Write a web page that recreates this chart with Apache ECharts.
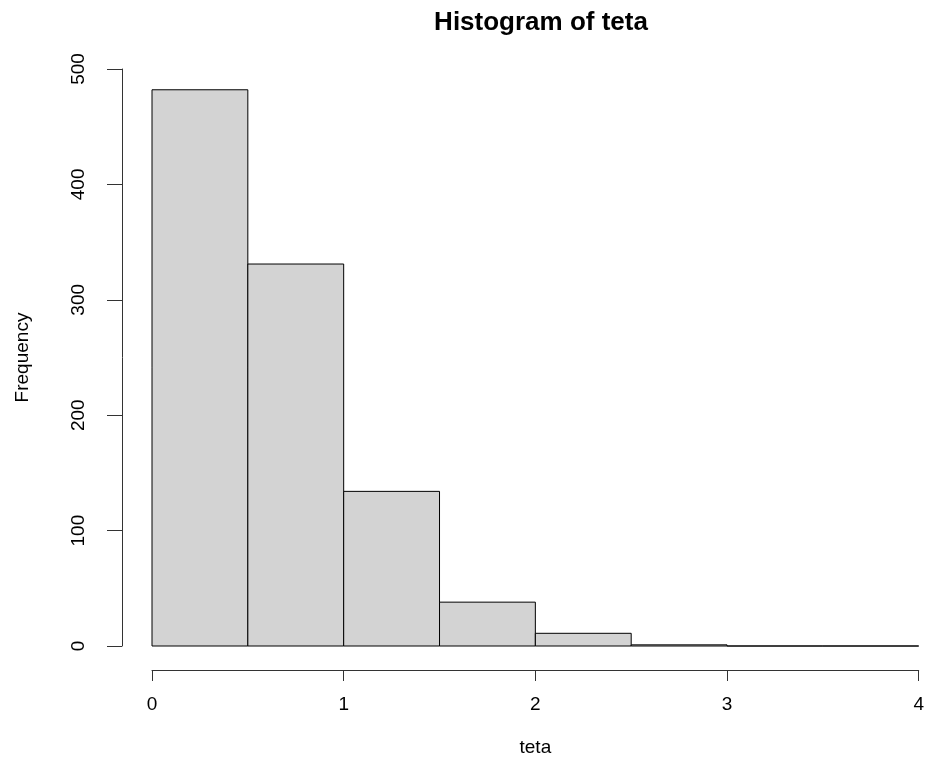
<!DOCTYPE html>
<html>
<head>
<meta charset="utf-8">
<title>Histogram of teta</title>
<style>
  html, body { margin: 0; padding: 0; background: #fff; }
  #chart { width: 927px; height: 769px; }
</style>
<script src="https://cdn.jsdelivr.net/npm/echarts@6/dist/echarts.min.js"></script>
</head>
<body>
<div id="chart"></div>
<script>
// histogram bins (left edge, right edge) and counts
const binStarts = [0, 0.5, 1, 1.5, 2, 2.5, 3, 3.5];
const binEnds = [0.5, 1, 1.5, 2, 2.5, 3, 3.5, 4];
const counts = [482, 331, 134, 38, 11, 1, 0, 0];
// axis ranges / ticks
const xMin = 0, xMax = 4, xStep = 1;
const yMin = 0, yMax = 500, yStep = 100;

const fontFamily = '"Liberation Sans", Arial, sans-serif';
const chart = echarts.init(document.getElementById('chart'));

const bins = binStarts.map((s, i) => [s, binEnds[i], counts[i]]);

const option = {
  animation: false,
  backgroundColor: '#fff',
  title: {
    text: 'Histogram of teta',
    left: 536,
    top: 5,
    textAlign: 'center',
    textStyle: {
      fontFamily,
      fontSize: 26,
      fontWeight: 'bold',
      color: '#000',
    },
  },
  grid: {
    left: 152,
    right: 6,
    top: 69,
    bottom: 123,
  },
  xAxis: {
    type: 'value',
    min: xMin,
    max: xMax,
    interval: xStep,
    offset: 24, // R draws the axis away from the bars
    name: 'teta',
    nameLocation: 'middle',
    nameGap: 68,
    nameTextStyle: { fontFamily, fontSize: 19, color: '#000' },
    axisLine: { show: true, onZero: false, lineStyle: { color: '#333', width: 1 } },
    axisTick: { show: true, length: 11, lineStyle: { color: '#333' } },
    axisLabel: { margin: 25, fontFamily, fontSize: 19, color: '#000' },
    splitLine: { show: false },
  },
  yAxis: {
    type: 'value',
    min: yMin,
    max: yMax,
    interval: yStep,
    offset: 30,
    name: 'Frequency',
    nameLocation: 'middle',
    nameGap: 90,
    nameTextStyle: { fontFamily, fontSize: 19, color: '#000' },
    axisLine: { show: true, onZero: false, lineStyle: { color: '#333', width: 1 } },
    axisTick: { show: true, length: 15, lineStyle: { color: '#333' } },
    axisLabel: { margin: 34, rotate: 90, fontFamily, fontSize: 19, color: '#000' },
    splitLine: { show: false },
  },
  series: [
    {
      type: 'custom',
      data: bins,
      encode: { x: [0, 1], y: 2 },
      renderItem(params, api) {
        const topLeft = api.coord([api.value(0), api.value(2)]);
        const bottomRight = api.coord([api.value(1), 0]);
        return {
          type: 'rect',
          shape: {
            x: topLeft[0],
            y: topLeft[1],
            width: bottomRight[0] - topLeft[0],
            height: bottomRight[1] - topLeft[1],
          },
          style: {
            fill: '#d3d3d3',
            stroke: '#000',
            lineWidth: 1,
          },
        };
      },
    },
  ],
};

chart.setOption(option);
</script>
</body>
</html>
